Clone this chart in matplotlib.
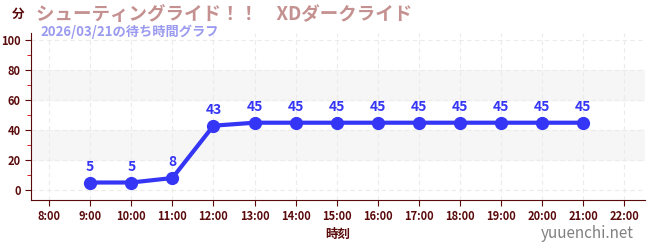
import matplotlib.pyplot as plt
from matplotlib.ticker import MultipleLocator

plt.rcParams['font.family'] = ['Noto Sans CJK JP', 'DejaVu Sans']

hours = [9, 10, 11, 12, 13, 14, 15, 16, 17, 18, 19, 20, 21]
waits = [5, 5, 8, 43, 45, 45, 45, 45, 45, 45, 45, 45, 45]
tick_hours = list(range(8, 23))
tick_labels = [f'{h}:00' for h in tick_hours]

title = 'シューティングライド！！　XDダークライド'
subtitle = '2026/03/21の待ち時間グラフ'

dark = '#5a0a0a'
blue = '#3535f5'

fig = plt.figure(figsize=(6.5, 2.5), dpi=100)
ax = fig.add_axes([31 / 650, 50 / 250, 614 / 650, 167 / 250])

ax.set_xlim(7.56, 22.5)
ax.set_ylim(-6.7, 105)

for lo, hi in [(20, 40), (60, 80)]:
    ax.axhspan(lo, hi, color='#f6f6f6', zorder=0)

ax.set_xticks(tick_hours)
ax.set_xticklabels(tick_labels)
ax.yaxis.set_major_locator(MultipleLocator(20))
ax.yaxis.set_minor_locator(MultipleLocator(10))
ax.grid(True, which='major', color='#ebebeb', linestyle=(0, (4, 3)), linewidth=0.8, zorder=1)

ax.plot(hours, waits, color=blue, linewidth=3, marker='o', markersize=8.5, zorder=3)
for h, w in zip(hours, waits):
    ax.text(h, w + 6, str(w), ha='center', va='bottom', color=blue, fontsize=10, fontweight='bold')

for side in ['top', 'right']:
    ax.spines[side].set_visible(False)
for side in ['left', 'bottom']:
    ax.spines[side].set_color(dark)

ax.tick_params(axis='both', which='major', colors=dark, labelsize=8, length=4)
ax.tick_params(axis='y', which='minor', colors='#cc0000', length=3)
for lbl in ax.get_xticklabels() + ax.get_yticklabels():
    lbl.set_fontweight('bold')
    lbl.set_color(dark)

ax.set_xlabel('時刻', color=dark, fontsize=9, fontweight='bold', labelpad=3)

fig.text(12 / 650, 1 - 14 / 250, '分', color=dark, fontsize=9, fontweight='bold', va='center')
fig.text(36 / 650, 1 - 14 / 250, title, color='#c49090', fontsize=13.3, fontweight='bold', va='center')
fig.text(40 / 650, 1 - 32 / 250, subtitle, color='#9a9af0', fontsize=9.5, fontweight='bold', va='center')
fig.text(634 / 650, 1 - 233 / 250, 'yuuenchi.net', color='#808080', fontsize=11, ha='right', va='center')

fig.savefig('out.png', dpi=100)
